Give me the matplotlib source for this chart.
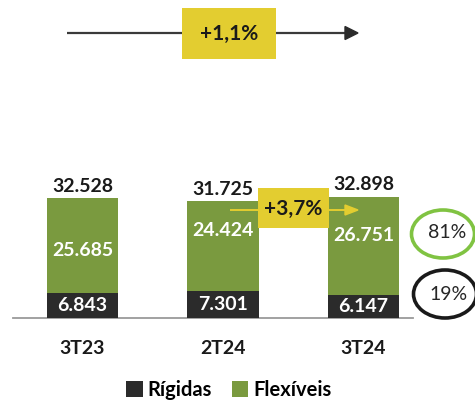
import matplotlib
matplotlib.use("Agg")
import matplotlib.pyplot as plt
from matplotlib.patches import Rectangle, Ellipse, Patch
import numpy as np

plt.rcParams['font.family'] = ['Lato', 'DejaVu Sans']

# Data (tons)
categories = ["3T23", "2T24", "3T24"]
rigidas = [6843, 7301, 6147]
flexiveis = [25685, 24424, 26751]
totais = [32528, 31725, 32898]
var_anual = "+1,1%"
var_trimestral = "+3,7%"
share_flex = "81%"
share_rig = "19%"
legend_labels = ["Rígidas", "Flexíveis"]

# Where each "Flexíveis" label sits inside its segment (fraction of height)
flex_label_pos = [0.45, 0.667, 0.61]

GREEN = "#7a9a3f"
DARK = "#2b2b2b"
YELLOW = "#e3cd30"
RING_GREEN = "#80c342"

W, H = 475, 401


def fmt(v):
    return f"{v:,}".replace(",", ".")


fig = plt.figure(figsize=(W / 100, H / 100), dpi=100)

# Main bar axes: baseline 318 px from top
px_per_unit = 120.0 / 32528
base_px = 318
ax_left, ax_right = 13, 413
ax = fig.add_axes([ax_left / W, (H - base_px) / H, (ax_right - ax_left) / W, base_px / H])
x = np.arange(len(categories))
ax.set_xlim((ax_left - 82.5) / 140.5, (ax_right - 82.5) / 140.5)
ax.set_ylim(0, base_px / px_per_unit)

width = 0.51
ax.bar(x, rigidas, width, color=DARK, zorder=3)
ax.bar(x, flexiveis, width, bottom=rigidas, color=GREEN, zorder=3)

for xi, r, f, t, p in zip(x, rigidas, flexiveis, totais, flex_label_pos):
    ax.text(xi, r / 2, fmt(r), ha="center", va="center", color="white",
            fontsize=14, fontweight="bold", zorder=5)
    ax.text(xi, r + f * p, fmt(f), ha="center", va="center", color="white",
            fontsize=14, fontweight="bold", zorder=5)
    ax.text(xi, r + f + 900, fmt(t), ha="center", va="bottom", color="#1a1a1a",
            fontsize=14, fontweight="bold", zorder=5)

for s in ["top", "right", "left"]:
    ax.spines[s].set_visible(False)
ax.spines["bottom"].set_color("#9a9a9a")
ax.spines["bottom"].set_linewidth(1.3)
ax.set_yticks([])
ax.set_xticks(x)
ax.set_xticklabels(categories, fontsize=14, fontweight="bold", color="#1a1a1a")
ax.tick_params(axis="x", length=0, pad=16)
ax.patch.set_alpha(0)

# Overlay in pixel coordinates for annotations
ov = fig.add_axes([0, 0, 1, 1], zorder=10)
ov.set_xlim(0, W)
ov.set_ylim(H, 0)
ov.axis("off")
ov.patch.set_alpha(0)

# Year-over-year arrow
ov.plot([67, 346], [33, 33], color="#3a3a3a", lw=1.6, solid_capstyle="butt", zorder=1)
ov.add_patch(plt.Polygon([[345, 26.5], [358, 33], [345, 39.5]], closed=True,
                         color="#2b2b2b", zorder=1))
ov.add_patch(Rectangle((182, 8), 94, 51, facecolor=YELLOW, edgecolor="none", zorder=2))
ov.text(229, 34, var_anual, ha="center", va="center", fontsize=15,
        fontweight="bold", color="#1a1a1a", zorder=3)

# Quarter-over-quarter arrow
ov.plot([230, 346], [210, 210], color=YELLOW, lw=1.4, solid_capstyle="butt", zorder=1)
ov.add_patch(plt.Polygon([[345, 205], [358, 210], [345, 215]], closed=True,
                         color=YELLOW, zorder=1))
ov.add_patch(Rectangle((258, 188), 71, 40, facecolor=YELLOW, edgecolor="none", zorder=2))
ov.text(293.5, 209, var_trimestral, ha="center", va="center", fontsize=15,
        fontweight="bold", color="#1a1a1a", zorder=3)

# Mix rings
ov.add_patch(Ellipse((443, 234), 63, 48, facecolor="white", edgecolor=RING_GREEN, lw=2.6))
ov.text(447, 233, share_flex, ha="center", va="center", fontsize=14, color="#262626")
ov.add_patch(Ellipse((445, 294), 63, 48, facecolor="white", edgecolor="#1a1a1a", lw=2.6))
ov.text(449, 295, share_rig, ha="center", va="center", fontsize=14, color="#262626")

# Legend
handles = [Patch(facecolor=DARK), Patch(facecolor=GREEN)]
fig.legend(handles, legend_labels, loc="center", bbox_to_anchor=(229 / W, 1 - 390 / H),
           ncol=2, frameon=False, handlelength=0.8, handleheight=0.8,
           handletextpad=0.25, columnspacing=1.0,
           prop={"weight": "bold", "size": 14.5})

fig.savefig("out.png", dpi=100)
